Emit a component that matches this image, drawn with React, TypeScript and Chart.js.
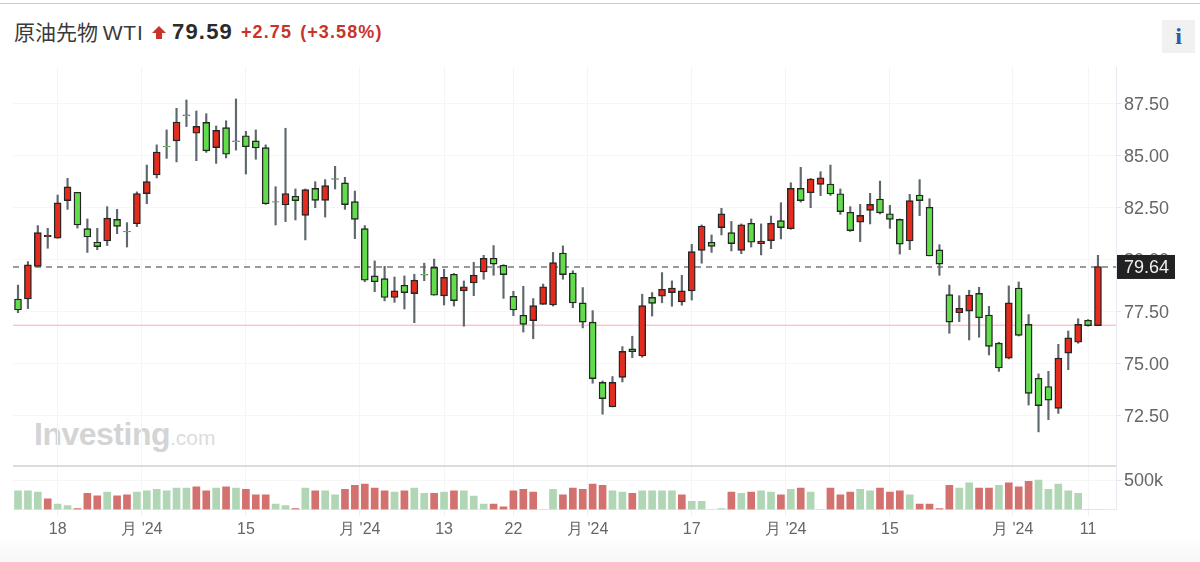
import { useEffect, useRef } from "react";
import { Chart, registerables } from "chart.js";

Chart.register(...registerables);

const opens = [78.10,78.10,79.67,81.10,81.02,82.83,83.23,81.48,80.84,80.89,81.93,81.35,81.72,83.17,84.06,85.44,85.70,86.95,86.07,86.59,85.38,86.34,85.70,85.95,85.70,85.38,82.78,82.62,83.04,82.12,83.42,82.84,83.89,83.68,82.78,81.48,79.21,79.08,78.17,78.76,78.36,79.29,79.62,78.25,79.29,78.49,78.87,79.40,80.06,79.72,78.23,77.32,77.06,77.84,77.81,80.31,79.35,77.91,76.99,74.09,72.91,74.33,75.70,75.36,78.18,78.23,78.41,77.96,78.49,80.44,80.83,81.53,81.29,80.44,81.74,80.76,80.91,81.87,81.48,83.42,83.21,83.61,83.63,83.16,82.27,81.80,82.36,82.91,82.20,81.93,80.89,83.10,82.51,80.46,78.31,77.44,77.52,78.37,77.33,75.98,75.25,78.63,76.88,74.29,73.89,72.84,75.50,76.02,77.08,76.82];
const highs = [78.77,79.90,81.63,81.50,83.10,83.90,83.23,81.95,81.50,82.54,82.41,81.77,83.25,84.54,85.51,86.23,87.27,87.67,87.14,87.01,86.42,86.67,87.72,86.16,86.23,85.51,83.50,86.31,83.39,83.39,83.74,83.84,84.48,83.95,83.29,81.63,79.93,79.67,79.16,79.21,79.29,79.82,80.02,79.53,79.33,78.97,79.86,80.20,80.67,79.75,78.47,78.71,78.12,78.82,80.34,80.65,79.46,78.65,77.54,74.16,74.37,75.81,76.31,78.33,78.41,79.37,78.97,79.24,80.73,81.66,81.18,82.46,81.83,81.71,81.95,81.71,82.09,82.73,83.69,84.43,83.90,84.22,84.54,83.39,82.54,82.65,83.18,83.77,82.60,81.95,83.13,83.84,82.92,80.71,78.77,78.26,78.52,78.66,77.75,76.02,78.73,78.92,77.35,74.50,74.62,75.92,76.56,77.15,77.11,80.20];
const lows = [77.44,77.64,79.67,80.54,81.02,82.41,81.51,80.34,80.47,80.67,81.24,80.60,81.58,82.68,83.92,84.86,84.69,86.39,84.75,85.15,84.62,84.88,85.26,84.11,84.82,82.65,81.66,81.82,81.90,80.94,82.49,82.04,83.39,82.41,81.00,78.93,78.45,78.01,77.94,77.62,76.96,78.98,78.28,77.81,77.76,76.79,78.26,79.05,79.24,78.13,77.30,76.51,76.19,77.84,77.76,79.05,77.68,76.71,74.05,72.56,72.91,74.11,75.28,75.30,77.28,77.92,77.75,77.80,78.05,79.82,80.34,81.18,80.41,80.28,80.60,80.22,80.52,80.99,81.45,82.76,82.49,83.07,83.08,82.17,81.35,80.86,81.71,82.19,81.50,80.26,80.47,82.11,80.17,79.24,76.45,77.01,76.13,76.26,75.41,74.62,75.22,76.32,73.00,71.71,72.30,72.60,74.70,75.97,76.79,76.82];
const closes = [77.57,79.74,81.29,81.16,82.72,83.49,81.66,81.08,80.62,81.99,81.59,81.32,83.17,83.74,85.17,85.41,86.61,86.92,86.40,85.22,86.21,85.06,85.66,85.42,85.36,82.68,82.75,83.17,82.83,83.36,82.84,83.55,83.85,82.64,81.93,79.00,78.93,78.17,78.49,78.41,79.01,79.25,78.28,79.14,78.02,78.69,79.25,80.06,79.78,79.27,77.57,76.88,77.78,78.69,79.85,79.27,77.91,76.99,74.27,73.31,74.09,75.58,75.57,77.78,77.89,78.57,78.63,78.49,80.38,81.61,80.63,82.19,80.76,81.67,80.83,80.89,81.74,81.53,83.42,82.83,83.87,83.93,83.15,82.30,81.39,82.12,82.65,82.24,81.93,80.74,82.83,82.83,80.17,79.78,76.99,77.65,78.29,77.20,75.82,74.78,77.91,76.35,73.56,72.97,73.24,75.26,76.23,76.88,76.82,79.66];

const volumes = [319,319,296,182,91,68,17,273,233,296,233,250,296,319,341,319,364,364,387,319,364,387,364,341,250,250,91,68,17,364,319,319,250,341,410,432,364,319,296,319,364,273,273,296,319,319,228,91,91,46,319,341,296,0,341,250,364,341,432,410,319,296,273,319,319,319,319,250,137,137,0,17,296,273,296,319,296,250,341,364,296,0,364,250,296,341,319,364,296,319,250,91,91,17,410,364,455,364,364,410,455,387,478,501,341,432,319,273,0,0];
const volumeUp = "GGGRGGRRRGRRGGGGGGRRGRGRRRGGRGRGGRRRRRGRGGRGRGGGRRRRRGGRRRRRGGRGGGGRGGGGRGRGGRGRGGRRRGGRRRGRRRRGGRRGRRRGGGGGG";

const priceTicks = [72.5, 75, 77.5, 80, 82.5, 85, 87.5];
const volumeTicks = [500];
const timeTickPositions = [4, 12.5, 23, 34.5, 43, 50, 57.5, 68, 77.5, 88, 100.4, 108];
const timeTickLabels = ["18", "月 '24", "15", "月 '24", "13", "22", "月 '24", "17", "月 '24", "15", "月 '24", "11"];

const lastPrice = 79.64;
const prevClose = 76.84;

const RED = "#e32b1e";
const GREEN = "#62dc4c";
const VOL_RED = "#d2716e";
const VOL_GREEN = "#b0d6b6";
const WICK = "#5f686c";
const OUTLINE = "#262626";
const FONT = "'Liberation Sans', Arial, sans-serif";

const X_MIN = -0.505;
const X_MAX = 110.82;
const PRICE_MIN = 70.07;
const PRICE_MAX = 89.255;
const VOL_MAX = 739;

export default function App() {
  const ref = useRef<HTMLCanvasElement | null>(null);

  useEffect(() => {
    if (!ref.current) return;
    const idx = opens.map((_, i) => i);
    const isDoji = (i: number) => Math.abs(opens[i] - closes[i]) < 0.05;

    const overlay = {
      id: "overlay",
      afterDraw(chart: any) {
        const { ctx, chartArea, scales } = chart;
        const sep = scales.yv.top;
        ctx.save();
        ctx.strokeStyle = "#dcdcdc";
        ctx.lineWidth = 2;
        ctx.beginPath();
        ctx.moveTo(chartArea.left, sep);
        ctx.lineTo(chartArea.right, sep);
        ctx.stroke();
        const yp = scales.y.getPixelForValue(lastPrice);
        ctx.fillStyle = "#222222";
        ctx.fillRect(chartArea.right + 1, yp - 12, 58, 24);
        ctx.fillStyle = "#f0f0f0";
        ctx.font = `18px ${FONT}`;
        ctx.textAlign = "left";
        ctx.textBaseline = "middle";
        ctx.fillText(lastPrice.toFixed(2), chartArea.right + 8, yp + 1);
        ctx.restore();
      },
    };

    const chart = new Chart(ref.current, {
      type: "bar",
      plugins: [overlay],
      data: {
        datasets: [
          {
            type: "bar",
            order: 1,
            grouped: false,
            yAxisID: "y",
            barThickness: 7,
            borderWidth: 1.4,
            borderSkipped: false,
            data: idx.map((i) => ({ x: i, y: [Math.min(opens[i], closes[i]), Math.max(opens[i], closes[i])] })),
            backgroundColor: idx.map((i) => (closes[i] >= opens[i] ? RED : GREEN)),
            borderColor: idx.map((i) => (isDoji(i) ? WICK : OUTLINE)),
          },
          {
            type: "bar",
            order: 2,
            grouped: false,
            yAxisID: "y",
            barThickness: 1.5,
            borderWidth: 0,
            data: idx.map((i) => ({ x: i, y: [lows[i], highs[i]] })),
            backgroundColor: WICK,
          },
          {
            type: "bar",
            order: 3,
            grouped: false,
            yAxisID: "yv",
            barThickness: 7,
            borderWidth: 0,
            data: idx.map((i) => ({ x: i, y: volumes[i] })),
            backgroundColor: idx.map((i) => (volumeUp[i] === "R" ? VOL_RED : VOL_GREEN)),
          },
          {
            type: "line",
            order: 4,
            yAxisID: "y",
            data: [{ x: X_MIN, y: lastPrice }, { x: X_MAX, y: lastPrice }],
            borderColor: "#7a7a7a",
            borderWidth: 1.6,
            borderDash: [6, 5],
            pointRadius: 0,
          },
          {
            type: "line",
            order: 5,
            yAxisID: "y",
            data: [{ x: X_MIN, y: prevClose }, { x: X_MAX, y: prevClose }],
            borderColor: "#ffaaaa",
            borderWidth: 1,
            pointRadius: 0,
          },
        ],
      } as any,
      options: {
        animation: false,
        responsive: false,
        maintainAspectRatio: false,
        layout: { padding: { left: 13, top: 67, right: 0, bottom: 0 } },
        plugins: { legend: { display: false }, tooltip: { enabled: false } },
        scales: {
          x: {
            type: "linear",
            offset: false,
            min: X_MIN,
            max: X_MAX,
            afterBuildTicks: (s: any) => {
              s.ticks = timeTickPositions.map((value) => ({ value }));
            },
            afterFit: (s: any) => {
              s.height = 52.5;
            },
            grid: { offset: false, color: "#f5f5f8", tickColor: "#eeeef2", tickLength: 6 },
            border: { color: "#e8e8ee" },
            ticks: {
              autoSkip: false,
              maxRotation: 0,
              padding: 4,
              color: "#666666",
              font: { family: FONT, size: 16 },
              callback: (v: any) => {
                const k = timeTickPositions.indexOf(Number(v));
                return k >= 0 ? timeTickLabels[k] : "";
              },
            },
          },
          y: {
            type: "linear",
            position: "right",
            stack: "panes",
            stackWeight: 399,
            min: PRICE_MIN,
            max: PRICE_MAX,
            afterBuildTicks: (s: any) => {
              s.ticks = priceTicks.map((value) => ({ value }));
            },
            afterFit: (s: any) => {
              s.width = 84;
            },
            grid: { color: "#f6f6f6", tickColor: "#e6e6ee", tickLength: 5 },
            border: { color: "#e8e8f0" },
            ticks: {
              padding: 3,
              labelOffset: 2,
              color: "#666666",
              font: { family: FONT, size: 18 },
              callback: (v: any) => Number(v).toFixed(2),
            },
          },
          yv: {
            type: "linear",
            position: "right",
            stack: "panes",
            stackWeight: 43.5,
            min: 0,
            max: VOL_MAX,
            afterBuildTicks: (s: any) => {
              s.ticks = volumeTicks.map((value) => ({ value }));
            },
            afterFit: (s: any) => {
              s.width = 84;
            },
            grid: { color: "#f6f6f6", tickColor: "#e6e6ee", tickLength: 5 },
            border: { color: "#e8e8f0" },
            ticks: {
              padding: 3,
              labelOffset: 1,
              color: "#666666",
              font: { family: FONT, size: 18 },
              callback: (v: any) => `${Number(v)}k`,
            },
          },
        },
      } as any,
    });
    return () => chart.destroy();
  }, []);

  return (
    <div
      style={{
        position: "absolute",
        left: 0,
        top: 0,
        width: 1200,
        height: 562,
        overflow: "hidden",
        background: "linear-gradient(#ffffff 0, #ffffff 535px, #f7f7f7 562px)",
        fontFamily: FONT,
      }}
    >
      <div style={{ position: "absolute", left: 0, top: 3, width: 1200, height: 1, background: "#cccccc" }} />
      <div style={{ position: "absolute", left: 14, top: 16, fontSize: 21, lineHeight: "30px", color: "#3a3a3a", whiteSpace: "nowrap", fontFamily: "'Noto Sans CJK JP', 'Liberation Sans', sans-serif" }}>
        原油先物 <span style={{ fontFamily: FONT, fontSize: 21, letterSpacing: 0.8 }}>WTI</span>
      </div>
      <div style={{ position: "absolute", left: 152, top: 26, width: 0, height: 0, borderLeft: "7px solid transparent", borderRight: "7px solid transparent", borderBottom: "7px solid #c8342a" }} />
      <div style={{ position: "absolute", left: 156, top: 33, width: 6, height: 6, background: "#c8342a" }} />
      <div style={{ position: "absolute", left: 172, top: 17, fontSize: 22, lineHeight: "30px", fontWeight: 700, color: "#2b2b2b", letterSpacing: 1.2, whiteSpace: "nowrap" }}>79.59</div>
      <div style={{ position: "absolute", left: 241, top: 17, fontSize: 18, lineHeight: "30px", fontWeight: 700, color: "#c8342a", letterSpacing: 1.1, wordSpacing: 2, whiteSpace: "nowrap" }}>+2.75 (+3.58%)</div>
      <div style={{ position: "absolute", left: 1162, top: 20, width: 33, height: 33, background: "#f1f1f1", color: "#2a5ca8", fontFamily: "'Liberation Serif', serif", fontWeight: 700, fontSize: 24, lineHeight: "33px", textAlign: "center" }}>i</div>
      <div style={{ position: "absolute", left: 34, top: 412, fontSize: 32, lineHeight: "44px", fontWeight: 700, color: "#d4d4d4", letterSpacing: -0.5, whiteSpace: "nowrap" }}>
        Investing<span style={{ fontSize: 21, fontWeight: 400, color: "#dcdcdc", letterSpacing: 0 }}>.com</span>
      </div>
      <canvas ref={ref} width={1200} height={562} style={{ position: "absolute", left: 0, top: 0, width: 1200, height: 562 }} />
    </div>
  );
}
